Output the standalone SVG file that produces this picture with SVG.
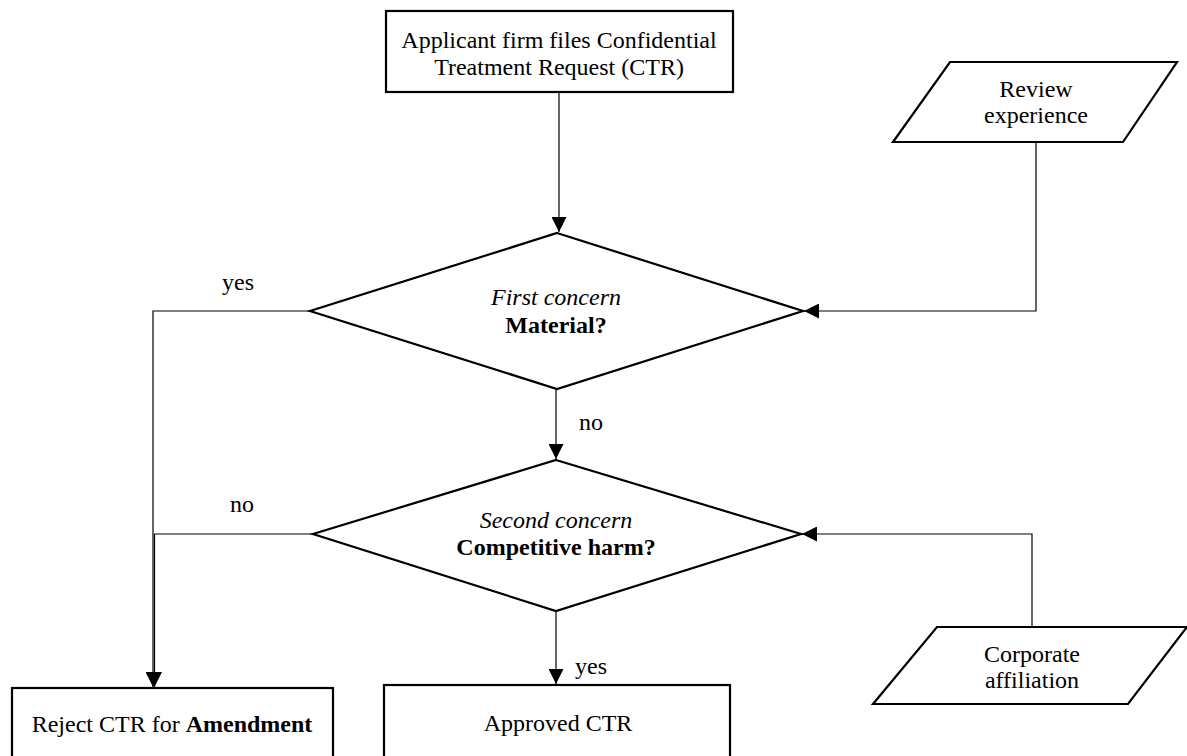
<svg xmlns="http://www.w3.org/2000/svg" width="1187" height="756" viewBox="0 0 1187 756">
<defs>
<style>
.shape{fill:#fff;stroke:#000;stroke-width:2.2}
.conn{fill:none;stroke:#000;stroke-width:1.2}
text{font-family:'Liberation Serif','DejaVu Serif','Times New Roman',serif;font-size:24px;fill:#000;text-anchor:middle}
.it{font-style:italic}
.b{font-weight:bold}
</style>
<marker id="arr" viewBox="0 0 15 15" refX="15" refY="7.5" markerWidth="15" markerHeight="15" markerUnits="userSpaceOnUse" orient="auto">
<path d="M0,0 L15,7.5 L0,15 Z" fill="#000"/>
</marker>
</defs>
<rect width="1187" height="756" fill="#fff"/>
<g id="connectors">
<path class="conn" d="M559,92 L559,232" marker-end="url(#arr)"/>
<path class="conn" d="M1036,142 L1036,311 L804,311" marker-end="url(#arr)"/>
<path class="conn" d="M556,389 L556,459" marker-end="url(#arr)"/>
<path class="conn" d="M1032,627 L1032,534 L802,534" marker-end="url(#arr)"/>
<path class="conn" d="M556,611 L556,684" marker-end="url(#arr)"/>
<path class="conn" d="M310,311 L153,311 L153,687" marker-end="url(#arr)"/>
<path class="conn" d="M313,534 L154.5,534 L154.5,687" marker-end="url(#arr)"/>
<text x="238" y="290">yes</text>
<text x="242" y="512">no</text>
<text x="591" y="430">no</text>
<text x="591" y="674">yes</text>
</g>
<g id="ctr-filing">
<rect class="shape" x="386" y="11" width="347" height="81"/>
<text x="559" y="48">Applicant firm files Confidential</text>
<text x="559" y="75">Treatment Request (CTR)</text>
</g>
<g id="review-experience">
<polygon class="shape" points="950,62 1177,62 1123,142 893,142"/>
<text x="1036" y="97">Review</text>
<text x="1036" y="123">experience</text>
</g>
<g id="first-concern">
<polygon class="shape" points="557,233 803,311 557,389 310,311"/>
<text class="it" x="556" y="305">First concern</text>
<text class="b" x="556" y="333">Material?</text>
</g>
<g id="second-concern">
<polygon class="shape" points="556,460 801,534 556,611 313,534"/>
<text class="it" x="556" y="528">Second concern</text>
<text class="b" x="556" y="555">Competitive harm?</text>
</g>
<g id="corporate-affiliation">
<polygon class="shape" points="937,627 1187,627 1128,704 873,704"/>
<text x="1032" y="662">Corporate</text>
<text x="1032" y="688">affiliation</text>
</g>
<g id="reject">
<rect class="shape" x="12" y="688" width="321" height="90"/>
<text x="172" y="732">Reject CTR for <tspan class="b">Amendment</tspan></text>
</g>
<g id="approved">
<rect class="shape" x="384" y="685" width="346" height="90"/>
<text x="558" y="731">Approved CTR</text>
</g>
</svg>
